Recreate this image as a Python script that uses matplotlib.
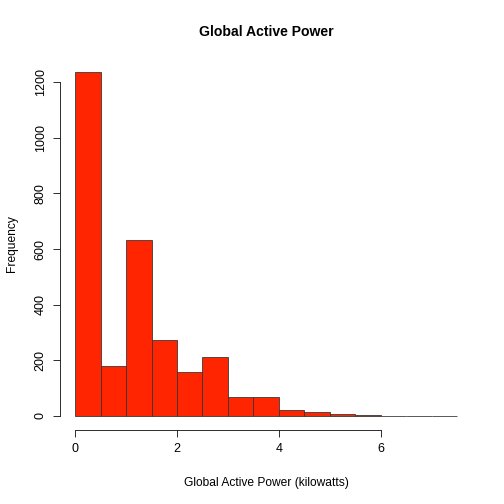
import matplotlib
matplotlib.use("Agg")
import matplotlib.pyplot as plt
import numpy as np

plt.rcParams['font.family'] = ['Liberation Sans', 'DejaVu Sans']

# histogram bins (kilowatts) and counts
bin_edges = [0, 0.5, 1, 1.5, 2, 2.5, 3, 3.5, 4, 4.5, 5, 5.5, 6, 6.5, 7, 7.5]
counts = [1236, 180, 632, 273, 158, 212, 68, 68, 22, 14, 7, 2, 1, 1, 1]
x_ticks = [0, 2, 4, 6]
y_ticks = [0, 200, 400, 600, 800, 1000, 1200]

fig = plt.figure(figsize=(7, 7), dpi=72)
ax = fig.add_axes([0.1185, 0.1474, 0.8195, 0.7369])

lefts = np.array(bin_edges[:-1])
widths = np.diff(bin_edges)
ax.bar(lefts, counts, width=widths, align='edge', color='#FF2500',
       edgecolor='#333333', linewidth=0.8)

ax.set_xlim(-0.3, 7.8)
ax.set_ylim(-0.04 * max(counts), 1.04 * max(counts))

for s in ['top', 'right']:
    ax.spines[s].set_visible(False)
ax.spines['left'].set_bounds(0, 1200)
ax.spines['bottom'].set_bounds(0, 6)

ax.set_xticks(x_ticks)
ax.set_yticks(y_ticks)
ax.set_yticklabels([str(v) for v in y_ticks], rotation=90, va='center')
ax.tick_params(axis='both', length=7, width=0.8, labelsize=12.5, pad=6)

ax.set_title('Global Active Power', fontsize=14, fontweight='bold', pad=22)
ax.set_xlabel('Global Active Power (kilowatts)', fontsize=12, labelpad=22)
ax.set_ylabel('Frequency', fontsize=12, labelpad=17)

fig.savefig('out.png', dpi=72)
